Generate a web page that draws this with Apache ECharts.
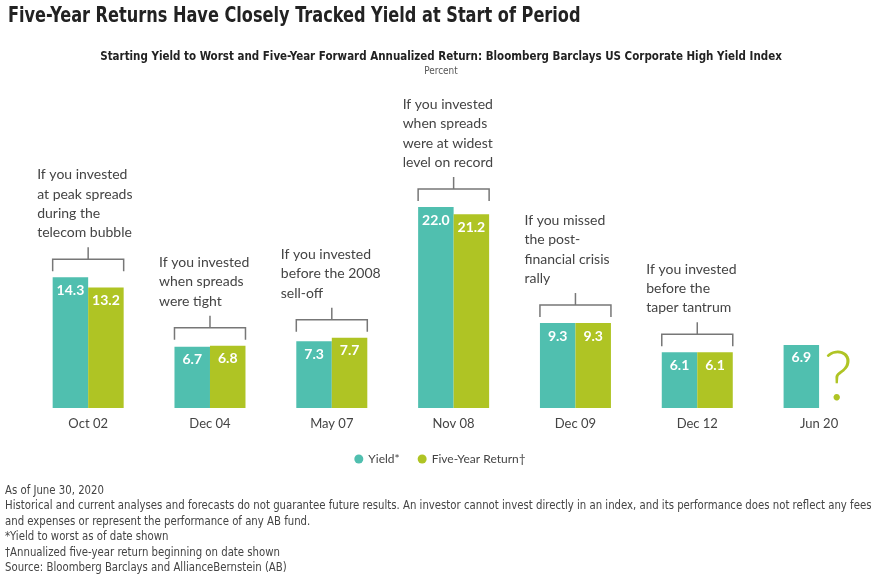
<!DOCTYPE html>
<html><head><meta charset="utf-8">
<script src="https://cdn.jsdelivr.net/npm/echarts@6/dist/echarts.min.js"></script>
<style>html,body{margin:0;padding:0;background:#fff}#c{width:880px;height:577px}</style>
</head><body><div id="c"></div>
<script>
const categories = ["Oct 02","Dec 04","May 07","Nov 08","Dec 09","Dec 12","Jun 20"];
const yieldValues = [14.3, 6.7, 7.3, 22.0, 9.3, 6.1, 6.9];
const returnValues = [13.2, 6.8, 7.7, 21.2, 9.3, 6.1, null];
const annotations = [
  "If you invested\nat peak spreads\nduring the\ntelecom bubble",
  "If you invested\nwhen spreads\nwere tight",
  "If you invested\nbefore the 2008\nsell-off",
  "If you invested\nwhen spreads\nwere at widest\nlevel on record",
  "If you missed\nthe post-\nfinancial crisis\nrally",
  "If you invested\nbefore the\ntaper tantrum",
  ""
];
const footnotes = [
  "As of June 30, 2020",
  "Historical and current analyses and forecasts do not guarantee future results. An investor cannot invest directly in an index, and its performance does not reflect any fees",
  "and expenses or represent the performance of any AB fund.",
  "*Yield to worst as of date shown",
  "\u2020Annualized five-year return beginning on date shown",
  "Source: Bloomberg Barclays and AllianceBernstein (AB)"
];

const TEAL = "#50bfaf", GREEN = "#afc424";
const BAR_W = 35.5;
const narrow = "'DejaVu Sans Condensed', 'DejaVu Sans', sans-serif";
const bodyFont = "Lato, 'Open Sans', sans-serif";

const bracketData = categories.map((c, i) => {
  const vals = [yieldValues[i], returnValues[i]].filter(v => v != null);
  return [i, Math.max(...vals), annotations[i]];
}).filter(d => d[2]);

const chart = echarts.init(document.getElementById('c'));
const valueLabel = {
  show: true, position: 'insideTop', distance: 6, color: '#fff',
  fontWeight: 'bold', fontSize: 14, fontFamily: bodyFont,
  formatter: p => p.value == null ? '' : Number(p.value).toFixed(1)
};
chart.setOption({
  animation: false,
  graphic: [
    {type:'text', x: 8, y: 6, scaleX: 0.855, style:{text:"Five-Year Returns Have Closely Tracked Yield at Start of Period", font:"bold 21px " + narrow, fill:'#222'}},
    {type:'text', x: 441, y: 50, scaleX: 0.883, style:{text:"Starting Yield to Worst and Five-Year Forward Annualized Return: Bloomberg Barclays US Corporate High Yield Index", font:"bold 13px " + narrow, fill:'#222', textAlign:'center'}},
    {type:'text', x: 441, y: 66, scaleX: 0.9, style:{text:"Percent", font:"11px " + narrow, fill:'#555', textAlign:'center'}},
    {type:'text', x: 5, y: 483, scaleX: 0.94, style:{text: footnotes.join("\n"), font:"12px " + narrow, fill:'#444', lineHeight: 15.5}}
  ],
  legend: {
    top: 448, left: 'center', itemWidth: 9, itemHeight: 9, itemGap: 18, icon: 'circle',
    textStyle: {fontSize: 12, color: '#444', fontFamily: bodyFont},
    data: ['Yield*', 'Five-Year Return\u2020']
  },
  grid: {left: 27.25, width: 857.5, top: 207, bottom: 169, containLabel: false},
  xAxis: {
    type: 'category', data: categories,
    axisLine: {show: false}, axisTick: {show: false},
    axisLabel: {color: '#444', fontSize: 13, fontFamily: bodyFont, margin: 9}
  },
  yAxis: {type: 'value', min: 0, max: 22, show: false, splitLine: {show: false}},
  series: [
    {name: 'Yield*', type: 'bar', data: yieldValues, barWidth: BAR_W, barGap: '0%',
     itemStyle: {color: TEAL}, label: valueLabel},
    {name: 'Five-Year Return\u2020', type: 'bar', data: returnValues, barWidth: BAR_W, barGap: '0%',
     itemStyle: {color: GREEN}, label: valueLabel},
    {type: 'custom', silent: true, data: bracketData, z: 5,
     renderItem: (params, api) => {
       const p = api.coord([api.value(0), api.value(1)]);
       const cx = p[0], top = p[1];
       const yh = top - 18, ye = top - 6, ys = yh - 12;
       const L = cx - BAR_W, R = cx + BAR_W;
       const txt = bracketData[params.dataIndex][2];
       return {type: 'group', children: [
         {type: 'polyline', shape: {points: [[L, ye],[L, yh],[R, yh],[R, ye]]}, style: {stroke: '#777', lineWidth: 1.5, fill: null}},
         {type: 'line', shape: {x1: cx, y1: yh, x2: cx, y2: ys}, style: {stroke: '#777', lineWidth: 1.5}},
         {type: 'text', x: cx - 51, y: ys - 5, style: {text: txt, font: '14px ' + bodyFont, fill: '#444', lineHeight: 19.3, textVerticalAlign: 'bottom', textAlign: 'left'}}
       ]};
     }},
    {type: 'custom', silent: true, data: [[6, 0]], z: 5,
     renderItem: (params, api) => {
       const p = api.coord([api.value(0), api.value(1)]);
       return {type: 'text', x: p[0] + 19, y: p[1] + 4, style: {text: '?', font: '300 68px ' + bodyFont, fill: GREEN, textAlign: 'center', textVerticalAlign: 'bottom'}};
     }}
  ]
});
</script></body></html>
